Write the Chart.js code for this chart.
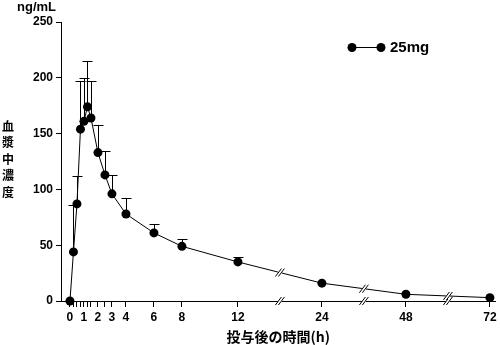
<!DOCTYPE html>
<html>
<head>
<meta charset="utf-8">
<script src="https://cdn.jsdelivr.net/npm/chart.js@4/dist/chart.umd.min.js"></script>
<style>
  html, body { margin: 0; padding: 0; background: #fff; }
  #wrap { width: 500px; height: 345px; }
</style>
</head>
<body>
<div id="wrap"><canvas id="pk-chart" width="500" height="345"></canvas></div>
<script>
// Sampling times (h), mean plasma concentration and SD (ng/mL)
const sampleHours = [0, 0.25, 0.5, 0.75, 1, 1.25, 1.5, 2, 2.5, 3, 4, 6, 8, 12, 24, 48, 72];
const meanConc = [0, 44, 87, 154, 161, 174, 164, 133, 113, 96, 78, 61, 49, 35, 16, 6, 3];
const sdConc = [0, 42, 25, 43, 39, 41, 33, 25, 21, 17, 14, 8, 7, 4, 0, 0, 0];

const labelledHours = [0, 1, 2, 3, 4, 6, 8, 12, 24, 48, 72];
const minorHours = [0.25, 0.5, 0.75, 1.25, 1.5, 2.5];
const axisBreakHours = [18, 36, 60];
const doseLabel = '25mg';

const FONT = '"Liberation Sans", Arial, Helvetica, sans-serif';
const CJK = '"Noto Sans CJK JP", "Noto Sans CJK SC", sans-serif';

// compressed time axis: 0-12h full scale, 12-24h half, 24-72h quarter
function toAxis(h) {
    if (h <= 12) return h;
    if (h <= 24) return 12 + (h - 12) / 2;
    return 18 + (h - 24) / 4;
}

function lineYAt(meta, px) {
    const pts = meta.data;
    for (let i = 1; i < pts.length; i++) {
        if (pts[i].x >= px) {
            const a = pts[i - 1], b = pts[i];
            return a.y + (b.y - a.y) * (px - a.x) / (b.x - a.x);
        }
    }
    return pts[pts.length - 1].y;
}

function drawBreak(ctx, x, y) {
    ctx.fillStyle = '#fff';
    ctx.fillRect(x - 2, y - 3, 4, 6);
    ctx.strokeStyle = '#000';
    ctx.lineWidth = 1;
    [-1.5, 1.5].forEach(off => {
        ctx.beginPath();
        ctx.moveTo(x + off - 3, y + 4);
        ctx.lineTo(x + off + 3, y - 4);
        ctx.stroke();
    });
}

const extras = {
    id: 'extras',
    beforeDatasetsDraw(chart) {
        const ctx = chart.ctx;
        const xs = chart.scales.x, ys = chart.scales.y;
        ctx.save();
        ctx.strokeStyle = '#000';
        ctx.lineWidth = 1;
        sampleHours.forEach((h, i) => {
            if (!sdConc[i]) return;
            const x = Math.round(xs.getPixelForValue(toAxis(h))) + 0.5;
            const y0 = ys.getPixelForValue(meanConc[i]);
            const y1 = Math.round(ys.getPixelForValue(meanConc[i] + sdConc[i])) + 0.5;
            ctx.beginPath();
            ctx.moveTo(x, y0);
            ctx.lineTo(x, y1);
            ctx.moveTo(x - 5, y1);
            ctx.lineTo(x + 5, y1);
            ctx.stroke();
        });
        ctx.restore();
    },
    afterDraw(chart) {
        const ctx = chart.ctx;
        const xs = chart.scales.x;
        const area = chart.chartArea;
        const meta = chart.getDatasetMeta(0);
        ctx.save();

        // axis breaks on the time axis and on the curve
        axisBreakHours.forEach(h => {
            const x = xs.getPixelForValue(toAxis(h));
            drawBreak(ctx, x, area.bottom);
            drawBreak(ctx, x, lineYAt(meta, x));
        });

        // unit above the y axis
        ctx.fillStyle = '#000';
        ctx.font = 'bold 13px ' + FONT;
        ctx.textAlign = 'left';
        ctx.textBaseline = 'middle';
        ctx.fillText('ng/mL', 17, 7);

        // vertical y-axis title, one character per row
        ctx.font = 'bold 12px ' + CJK;
        ctx.textAlign = 'center';
        Array.from('血漿中濃度').forEach((ch, i) => {
            ctx.fillText(ch, 8, 126 + i * 16.5);
        });

        // legend: dot-line-dot sample and dose label
        const ly = 47.5;
        ctx.strokeStyle = '#000';
        ctx.lineWidth = 1;
        ctx.beginPath();
        ctx.moveTo(352, ly);
        ctx.lineTo(381, ly);
        ctx.stroke();
        [352, 381].forEach(x => {
            ctx.beginPath();
            ctx.arc(x, ly, 4.5, 0, Math.PI * 2);
            ctx.fill();
        });
        ctx.font = 'bold 15px ' + FONT;
        ctx.textAlign = 'left';
        ctx.fillText(chart.data.datasets[0].label, 390, ly);
        ctx.restore();
    }
};

new Chart(document.getElementById('pk-chart'), {
    type: 'line',
    data: {
        datasets: [{
            label: doseLabel,
            data: sampleHours.map((h, i) => ({ x: toAxis(h), y: meanConc[i] })),
            borderColor: '#000',
            borderWidth: 1,
            backgroundColor: '#000',
            pointRadius: 4.5,
            pointBorderWidth: 0,
            pointBackgroundColor: '#000',
            tension: 0,
            clip: false
        }]
    },
    options: {
        responsive: false,
        animation: false,
        devicePixelRatio: 1,
        layout: { padding: { top: 22, right: 4, bottom: 0, left: 0 } },
        plugins: { legend: { display: false }, tooltip: { enabled: false } },
        scales: {
            x: {
                type: 'linear',
                min: -0.64,
                max: 30.4,
                afterBuildTicks(scale) {
                    scale.ticks = labelledHours.concat(minorHours)
                        .sort((a, b) => a - b)
                        .map(h => ({ value: toAxis(h) }));
                },
                afterFit(scale) { scale.height = 44; },
                ticks: {
                    autoSkip: false,
                    maxRotation: 0,
                    padding: 3,
                    color: '#000',
                    font: { family: FONT, size: 12, weight: 'bold' },
                    callback(value) {
                        const h = labelledHours.find(t => Math.abs(toAxis(t) - value) < 1e-6);
                        return h === undefined ? '' : String(h);
                    }
                },
                grid: { display: true, drawOnChartArea: false, drawTicks: true, tickLength: 6, color: '#000' },
                border: { display: true, color: '#000', width: 1 },
                title: {
                    display: true,
                    text: '投与後の時間(h)',
                    color: '#000',
                    font: { family: CJK, size: 14, weight: 'bold' },
                    padding: { top: 0, bottom: 0 }
                }
            },
            y: {
                min: 0,
                max: 250,
                afterFit(scale) { scale.width = 61; },
                ticks: {
                    stepSize: 50,
                    padding: 3,
                    color: '#000',
                    font: { family: FONT, size: 12, weight: 'bold' }
                },
                grid: { display: true, drawOnChartArea: false, drawTicks: true, tickLength: 5, color: '#000' },
                border: { display: true, color: '#000', width: 1 }
            }
        }
    },
    plugins: [extras]
});
</script>
</body>
</html>
